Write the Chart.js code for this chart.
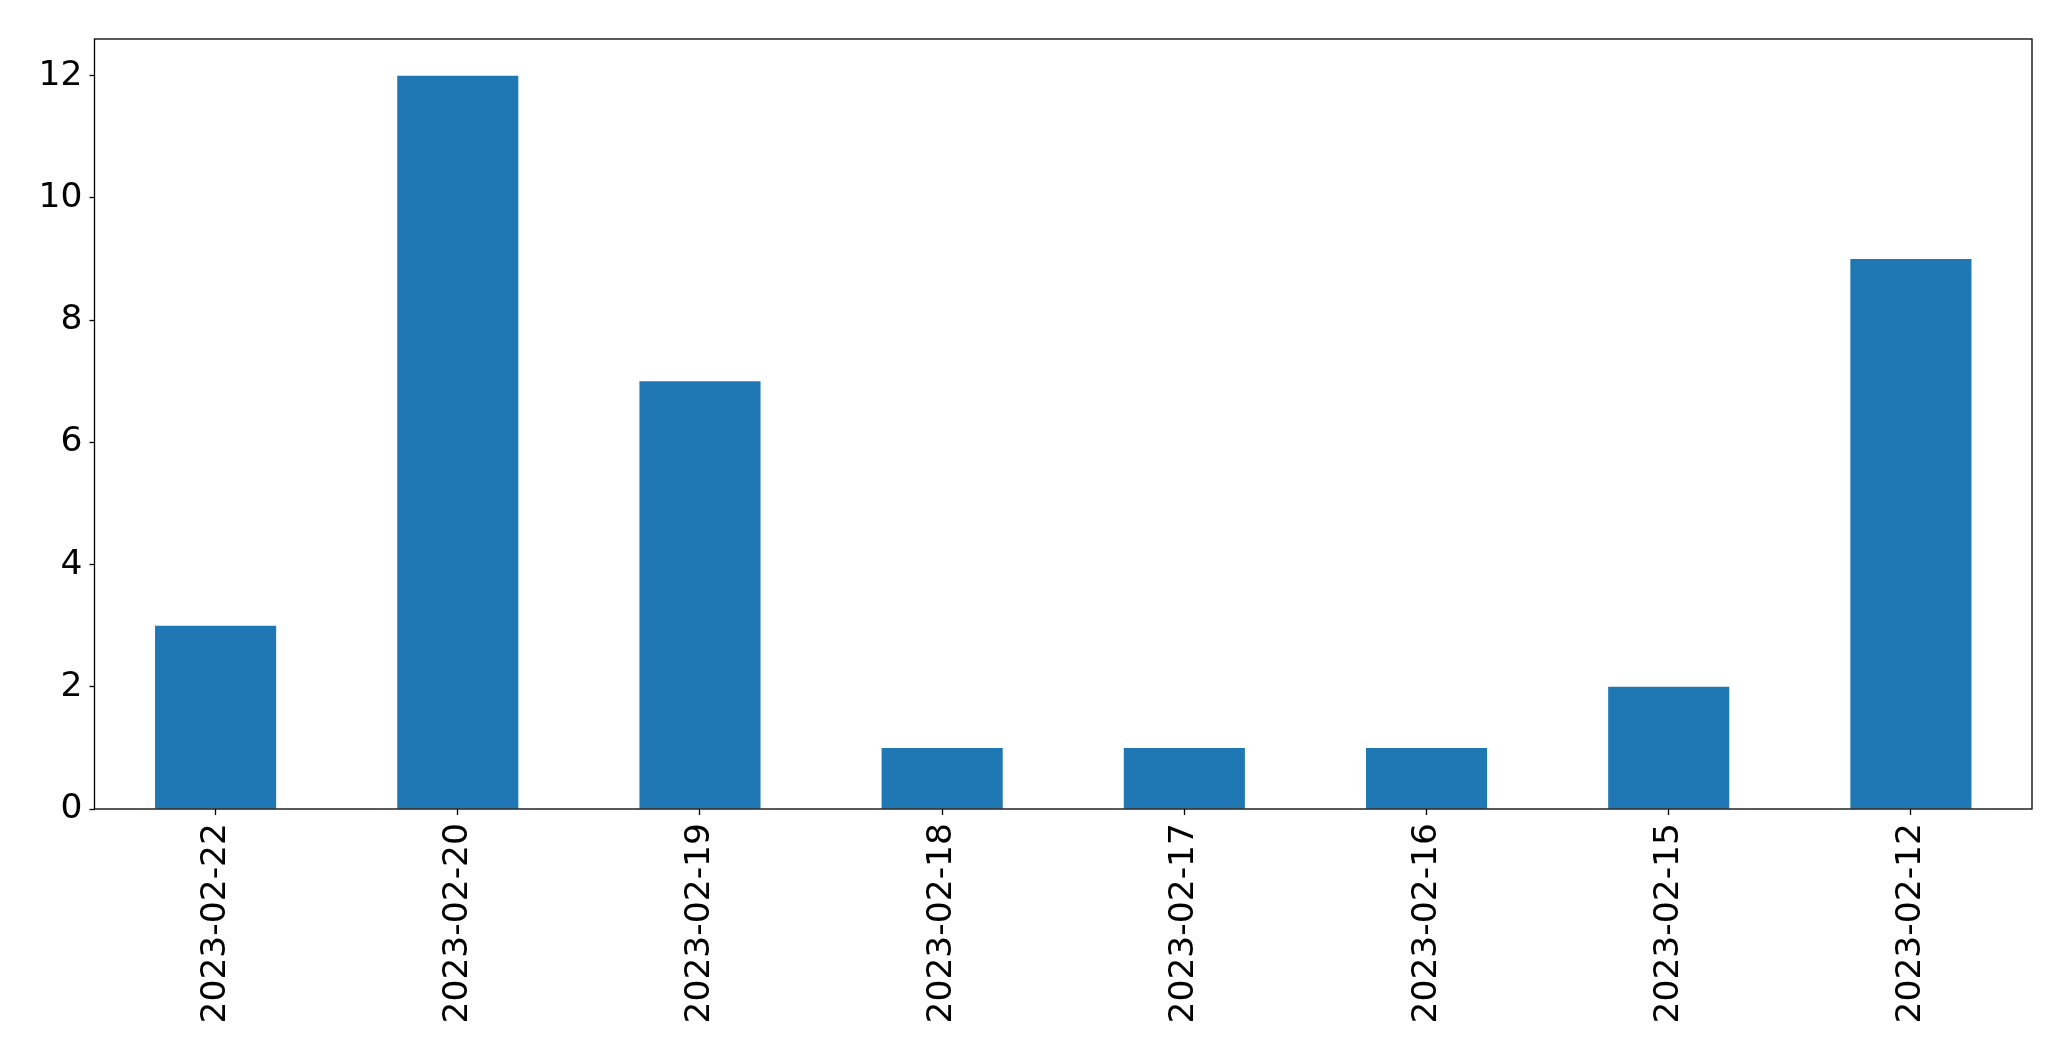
<!DOCTYPE html>
<html>
<head>
<meta charset="utf-8">
<script src="https://cdn.jsdelivr.net/npm/chart.js@4/dist/chart.umd.min.js"></script>
<style>
html,body{margin:0;padding:0;background:#fff;}
#wrap{width:2071px;height:1061px;}
</style>
</head>
<body>
<div id="wrap"><canvas id="c" width="2071" height="1061"></canvas></div>
<script>
const categories = ["2023-02-22","2023-02-20","2023-02-19","2023-02-18","2023-02-17","2023-02-16","2023-02-15","2023-02-12"];
const values = [3, 12, 7, 1, 1, 1, 2, 9];
const yTicks = [0, 2, 4, 6, 8, 10, 12];
const yMax = 12.6;

const FONT = "'DejaVu Sans', sans-serif";

const framePlugin = {
  id: 'frame',
  afterDraw(chart) {
    const a = chart.chartArea, ctx = chart.ctx;
    ctx.save();
    ctx.strokeStyle = '#000';
    ctx.lineWidth = 1.3;
    ctx.strokeRect(a.left, a.top, a.right - a.left, a.bottom - a.top);
    ctx.restore();
  }
};

new Chart(document.getElementById('c'), {
  type: 'bar',
  data: {
    labels: categories,
    datasets: [{
      data: values,
      backgroundColor: '#1f77b4',
      borderWidth: 0,
      categoryPercentage: 1.0,
      barPercentage: 0.5
    }]
  },
  options: {
    responsive: false,
    animation: false,
    layout: { padding: { left: 0, top: 39, right: 39, bottom: 0 } },
    plugins: { legend: { display: false }, tooltip: { enabled: false } },
    scales: {
      x: {
        afterFit(s) { s.height = 252; },
        grid: { offset: false, drawOnChartArea: false, tickLength: 6, tickColor: '#000', tickWidth: 1.3 },
        border: { display: false },
        ticks: {
          color: '#000', font: { family: FONT, size: 34.5 },
          minRotation: 90, maxRotation: 90, padding: 8, autoSkip: false
        }
      },
      y: {
        min: 0, max: yMax,
        afterFit(s) { s.width = 94.5; },
        afterBuildTicks(s) { s.ticks = yTicks.map(v => ({ value: v })); },
        grid: { drawOnChartArea: false, tickLength: 5, tickColor: '#000', tickWidth: 1.3 },
        border: { display: false },
        ticks: { color: '#000', font: { family: FONT, size: 34.5 }, padding: 7 }
      }
    }
  },
  plugins: [framePlugin]
});
</script>
</body>
</html>
